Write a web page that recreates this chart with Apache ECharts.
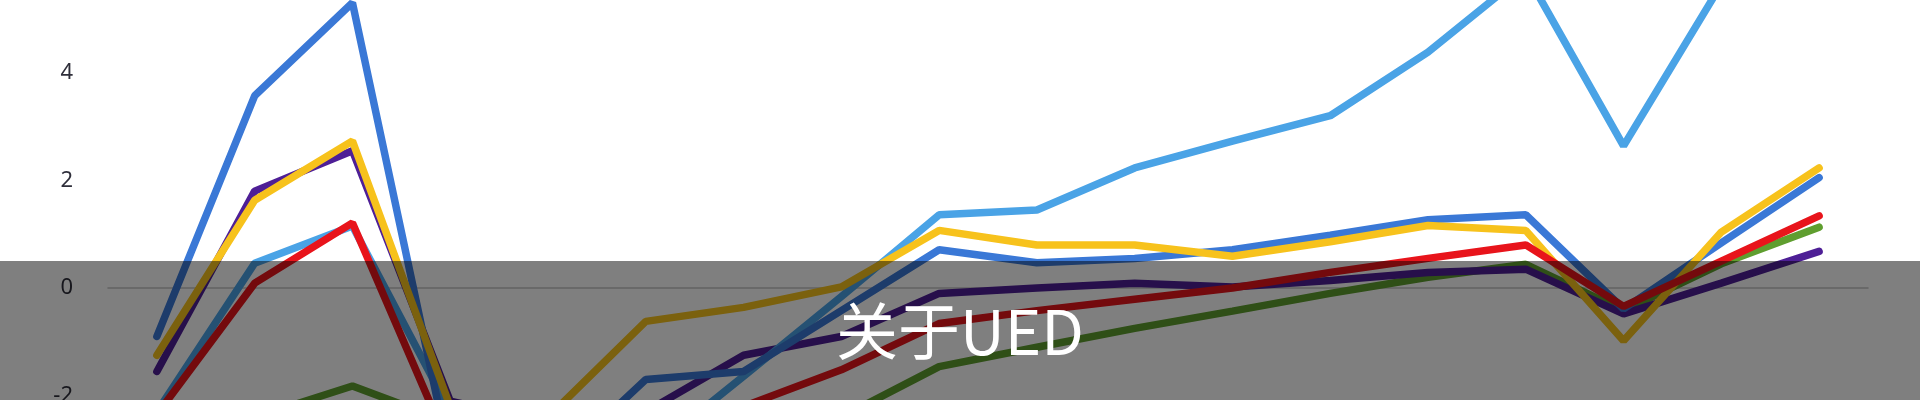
<!DOCTYPE html>
<html>
<head>
<meta charset="utf-8">
<script src="https://cdn.jsdelivr.net/npm/echarts@6/dist/echarts.min.js"></script>
<style>
  html, body { margin: 0; padding: 0; background: #fff; }
  #wrap { position: relative; width: 1920px; height: 400px; overflow: hidden; }
  /* the plot is taller than the window: it is cut off at top and bottom */
  #main { position: absolute; left: 0; top: -46px; width: 1920px; height: 668px; }
</style>
</head>
<body>
<div id="wrap"><div id="main"></div></div>
<script>
// x categories (labels not shown in the picture)
var categories = ['1','2','3','4','5','6','7','8','9','10','11','12','13','14','15','16','17','18'];
var yTicks = [-6, 6, 2]; // min, max, interval

var greenData     = [-2.9, -2.4, -1.82, -2.5, -2.7, -2.8, -2.7, -2.4, -1.46, -1.1, -0.75, -0.43, -0.1, 0.2, 0.44, -0.42, 0.45, 1.13];
var purpleData    = [-1.55, 1.8, 2.55, -2.1, -2.5, -2.3, -1.25, -0.9, -0.1, 0.0, 0.09, 0.02, 0.14, 0.29, 0.35, -0.48, 0.09, 0.68];
var lightBlueData = [-2.3, 0.46, 1.15, -2.3, -3.0, -3.1, -1.64, -0.16, 1.36, 1.45, 2.23, 2.73, 3.2, 4.38, 5.85, 2.64, 5.64, 5.9];
var blueData      = [-0.9, 3.57, 5.3, -3.2, -3.4, -1.7, -1.55, -0.42, 0.71, 0.47, 0.55, 0.71, 0.98, 1.27, 1.36, -0.39, 0.84, 2.05];
var yellowData    = [-1.25, 1.63, 2.73, -2.2, -2.4, -0.62, -0.36, 0.02, 1.07, 0.8, 0.8, 0.59, 0.86, 1.16, 1.07, -0.98, 1.04, 2.23];
var redData       = [-2.35, 0.09, 1.21, -3.0, -3.0, -2.6, -2.2, -1.52, -0.66, -0.42, -0.21, 0.0, 0.29, 0.55, 0.8, -0.34, 0.5, 1.34];

var bannerText = '关于UED';

var dom = document.getElementById('main');
var myChart = echarts.init(dom);

function line(name, data, color) {
    return {
        name: name,
        type: 'line',
        data: data,
        symbol: 'none',
        smooth: false,
        lineStyle: { color: color, width: 7.5, cap: 'round' },
        itemStyle: { color: color }
    };
}

var offset = 46; // chart div starts 46px above the window

var option = {
    animation: false,
    backgroundColor: '#ffffff',
    grid: {
        left: 108,
        right: 52,
        top: 0,
        bottom: 0
    },
    xAxis: {
        type: 'category',
        data: categories,
        boundaryGap: true,
        axisLine: { onZero: true, lineStyle: { color: '#c4c4c4', width: 1.5 } },
        axisTick: { show: false },
        axisLabel: { show: false },
        splitLine: { show: false }
    },
    yAxis: {
        type: 'value',
        min: yTicks[0],
        max: yTicks[1],
        interval: yTicks[2],
        axisLine: { show: false },
        axisTick: { show: false },
        splitLine: { show: false },
        axisLabel: {
            margin: 35,
            fontSize: 22,
            color: '#2e2e3a',
            fontFamily: 'Noto Sans'
        }
    },
    series: [
        line('green', greenData, '#5f9e2f'),
        line('purple', purpleData, '#4e1f96'),
        line('lightblue', lightBlueData, '#4aa3e6'),
        line('blue', blueData, '#3a78d6'),
        line('yellow', yellowData, '#f7c21c'),
        line('red', redData, '#e8141b')
    ],
    graphic: [
        {
            type: 'rect',
            z: 100,
            left: 0,
            top: 261 + offset,
            shape: { width: 1920, height: 139 },
            style: { fill: 'rgba(0,0,0,0.5)' }
        },
        {
            type: 'text',
            z: 101,
            left: 'center',
            top: 300 + offset,
            style: {
                text: bannerText,
                fill: '#ffffff',
                fontSize: 62,
                fontFamily: 'Noto Sans CJK SC',
                fontWeight: 'normal'
            }
        }
    ]
};
myChart.setOption(option, true);
</script>
</body>
</html>
